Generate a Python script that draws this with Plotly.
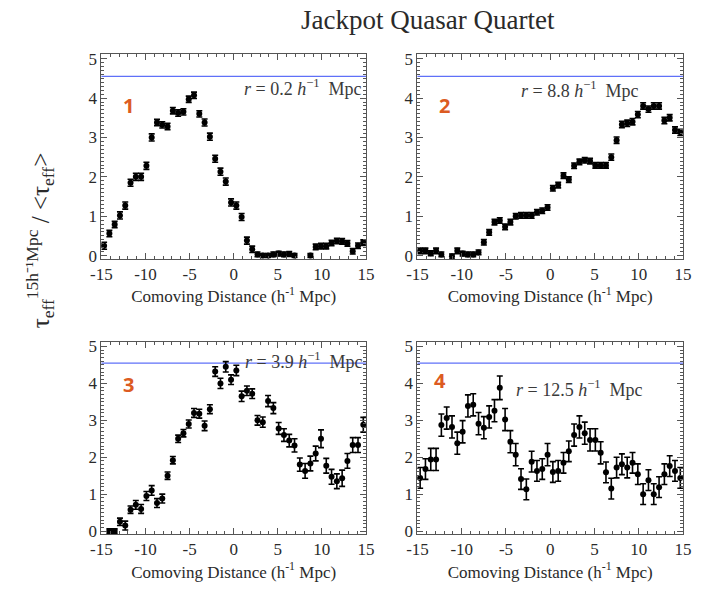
import plotly.graph_objects as go

# Comoving distance bins (h^-1 Mpc) shared by all four sightlines
distance = [-14.7, -14.1, -13.5, -12.9, -12.3, -11.7, -11.1, -10.5, -9.9, -9.3,
            -8.7, -8.1, -7.5, -6.9, -6.3, -5.7, -5.1, -4.5, -3.9, -3.3,
            -2.7, -2.1, -1.5, -0.9, -0.3, 0.3, 0.9, 1.5, 2.1, 2.7,
            3.3, 3.9, 4.5, 5.1, 5.7, 6.3, 6.9, 7.5, 8.1, 8.7,
            9.3, 9.9, 10.5, 11.1, 11.7, 12.3, 12.9, 13.5, 14.1, 14.7]

# Normalised effective optical depth, one list per quasar sightline
tau_1 = [0.25, 0.56, 0.79, 1.02, 1.27, 1.85, 2.0, 2.0, 2.28, 3.0,
         3.38, 3.32, 3.28, 3.68, 3.62, 3.65, 3.97, 4.07, 3.6, 3.38,
         3.02, 2.46, 2.13, 1.88, 1.35, 1.27, 0.98, 0.38, 0.16, 0.03,
         0.0, 0.0, 0.03, 0.05, 0.03, 0.04, 0.0, None, None, 0.0,
         0.22, 0.24, 0.24, 0.32, 0.37, 0.36, 0.31, 0.11, 0.25, 0.33]
err_1 = [0.09, 0.08, 0.08, 0.09, 0.09, 0.09, 0.09, 0.09, 0.09, 0.09,
         0.08, 0.08, 0.08, 0.08, 0.08, 0.08, 0.08, 0.08, 0.08, 0.09,
         0.09, 0.09, 0.09, 0.09, 0.09, 0.09, 0.09, 0.09, 0.08, 0.06,
         0.05, 0.05, 0.06, 0.06, 0.06, 0.06, 0.05, 0.0, 0.0, 0.05,
         0.07, 0.07, 0.07, 0.07, 0.07, 0.07, 0.07, 0.07, 0.07, 0.07]

tau_2 = [0.12, 0.12, 0.06, 0.12, 0.03, None, -0.02, 0.12, 0.05, 0.03,
         0.03, 0.08, 0.34, 0.59, 0.85, 0.89, 0.73, 0.85, 1.0, 1.02,
         1.02, 1.02, 1.1, 1.14, 1.22, 1.71, 1.79, 2.03, 1.93, 2.28,
         2.38, 2.42, 2.4, 2.29, 2.29, 2.29, 2.5, 2.93, 3.33, 3.36,
         3.4, 3.58, 3.8, 3.72, 3.8, 3.8, 3.43, 3.5, 3.19, 3.13]
err_2 = [0.07, 0.07, 0.06, 0.07, 0.06, 0.0, 0.06, 0.07, 0.06, 0.06,
         0.06, 0.06, 0.07, 0.07, 0.07, 0.07, 0.07, 0.07, 0.07, 0.07,
         0.07, 0.07, 0.07, 0.07, 0.07, 0.07, 0.07, 0.07, 0.07, 0.07,
         0.07, 0.07, 0.07, 0.07, 0.07, 0.07, 0.08, 0.08, 0.08, 0.08,
         0.08, 0.08, 0.08, 0.08, 0.08, 0.08, 0.08, 0.08, 0.08, 0.08]

tau_3 = [None, 0.0, 0.0, 0.25, 0.15, 0.58, 0.71, 0.6, 0.95, 1.1,
         0.76, 0.88, 1.5, 1.92, 2.5, 2.65, 2.9, 3.2, 3.18, 2.85,
         3.3, 4.32, 4.0, 4.45, 4.1, 4.35, 3.65, 3.8, 3.72, 3.0,
         2.95, 3.52, 3.33, 2.78, 2.6, 2.45, 2.32, 1.8, 1.63, 1.83,
         2.1, 2.5, 1.77, 1.47, 1.35, 1.43, 1.9, 2.33, 2.33, 2.88]
err_3 = [0.0, 0.06, 0.06, 0.1, 0.12, 0.1, 0.12, 0.12, 0.12, 0.13,
         0.12, 0.12, 0.1, 0.1, 0.1, 0.1, 0.11, 0.12, 0.12, 0.13,
         0.12, 0.13, 0.14, 0.14, 0.13, 0.14, 0.14, 0.13, 0.13, 0.13,
         0.14, 0.15, 0.15, 0.16, 0.17, 0.17, 0.18, 0.18, 0.2, 0.2,
         0.2, 0.24, 0.2, 0.2, 0.2, 0.22, 0.2, 0.2, 0.2, 0.2]

tau_4 = [1.44, 1.68, 1.94, 1.94, 2.87, 3.06, 2.82, 2.38, 2.69, 3.39,
         3.42, 2.91, 2.8, 3.09, 3.26, 3.88, 3.02, 2.42, 2.07, 1.41,
         1.13, 1.88, 1.63, 1.68, 2.07, 1.6, 1.63, 1.85, 2.16, 2.6,
         2.82, 2.65, 2.47, 2.47, 2.12, 1.59, 1.15, 1.72, 1.81, 1.72,
         1.85, 1.54, 1.0, 1.38, 1.0, 1.19, 1.54, 1.76, 1.63, 1.44]
err_4 = [0.28, 0.28, 0.3, 0.3, 0.3, 0.3, 0.3, 0.3, 0.3, 0.3,
         0.3, 0.3, 0.3, 0.3, 0.3, 0.32, 0.3, 0.3, 0.3, 0.28,
         0.28, 0.28, 0.28, 0.28, 0.3, 0.28, 0.28, 0.28, 0.28, 0.3,
         0.3, 0.3, 0.3, 0.3, 0.3, 0.28, 0.28, 0.28, 0.28, 0.28,
         0.28, 0.28, 0.28, 0.28, 0.28, 0.28, 0.28, 0.28, 0.28, 0.28]

panel_ids = ["1", "2", "3", "4"]
separations = ["0.2", "8.8", "3.9", "12.5"]
tau_series = [tau_1, tau_2, tau_3, tau_4]
err_series = [err_1, err_2, err_3, err_4]
reference_level = 4.55

x_ticks = [-15, -10, -5, 0, 5, 10, 15]
x_tick_labels = ["-15", "-10", "-5", "0", "5", "10", "15"]
y_ticks = [0, 1, 2, 3, 4, 5]
y_tick_labels = ["0", "1", "2", "3", "4", "5"]

W, H = 726, 591
SERIF = "Liberation Serif"
INK = "#2a2a2a"
FRAME = "#555555"
NBSP = "\u00a0"

# panel frames in pixels: (left, right, top, bottom)
frames = [(93, 365, 50, 259), (418, 691, 50, 259),
          (93, 365, 344, 540), (418, 691, 344, 540)]
# where the panel number and the separation label sit, in data units
id_pos = [(-11.9, 3.8), (-11.9, 3.8), (-11.9, 3.98), (-12.4, 4.08)]
sep_pos = [(14.8, 4.27, "right"), (-3.5, 4.22, "left"),
           (14.9, 4.62, "right"), (-4.1, 3.85, "left")]

fig = go.Figure()
layout = {}
annotations = []
shapes = []

for i in range(4):
    n = "" if i == 0 else str(i + 1)
    xa, ya = "x" + n, "y" + n
    left, right, top, bottom = frames[i]

    fig.add_trace(go.Scatter(
        x=distance, y=tau_series[i], xaxis=xa, yaxis=ya,
        mode="markers",
        marker=dict(color="black", size=6),
        error_y=dict(type="data", array=err_series[i], color="black",
                     thickness=1.6, width=3),
        showlegend=False, cliponaxis=False,
    ))

    common = dict(
        showline=True, linecolor=FRAME, linewidth=1, mirror="allticks",
        ticks="inside", ticklen=6, tickwidth=1, tickcolor=FRAME,
        showgrid=False, zeroline=False,
        tickfont=dict(family=SERIF, size=17, color=INK),
    )
    layout["xaxis" + n] = dict(
        common,
        domain=[left / W, right / W], anchor=ya,
        range=[-15, 15], tickmode="array",
        tickvals=x_ticks, ticktext=x_tick_labels,
        minor=dict(dtick=1, ticks="inside", ticklen=3, tickcolor=FRAME),
        title=dict(text="Comoving Distance (h<sup>-1</sup> Mpc)",
                   font=dict(family=SERIF, size=17, color=INK), standoff=0),
    )
    layout["yaxis" + n] = dict(
        common,
        domain=[1 - bottom / H, 1 - top / H], anchor=xa,
        range=[-0.08, 5.12], tickmode="array",
        tickvals=y_ticks, ticktext=y_tick_labels,
        minor=dict(dtick=0.1, ticks="inside", ticklen=3, tickcolor=FRAME),
    )

    shapes.append(dict(type="line", xref=xa + " domain", yref=ya,
                       x0=0, x1=1, y0=reference_level, y1=reference_level,
                       line=dict(color="#5f70f8", width=1.2), layer="below"))

    annotations.append(dict(
        x=id_pos[i][0], y=id_pos[i][1], xref=xa, yref=ya,
        xanchor="center", yanchor="middle",
        text="<b>" + panel_ids[i] + "</b>", showarrow=False,
        font=dict(family="Open Sans", size=20, color="#DC5B22"),
    ))
    sx, sy, anchor = sep_pos[i]
    annotations.append(dict(
        x=sx, y=sy, xref=xa, yref=ya, xanchor=anchor, yanchor="middle",
        text=("<i>r</i>" + NBSP + "=" + NBSP + separations[i] + NBSP
              + "<i>h</i><sup>\u22121</sup>" + NBSP + NBSP + "Mpc"),
        showarrow=False,
        font=dict(family=SERIF, size=18, color="#3a3a3a"),
    ))

annotations.append(dict(
    x=429 / W, y=1 - 15 / H, xref="paper", yref="paper",
    xanchor="center", yanchor="middle",
    text="Jackpot Quasar Quartet", showarrow=False,
    font=dict(family=SERIF, size=27, color=INK),
))
annotations.append(dict(
    x=30 / W, y=1 - 240 / H, xref="paper", yref="paper",
    xanchor="center", yanchor="middle", textangle=-90,
    text=("\u03c4<sub>eff</sub><sup>15h\u207b\u00b9Mpc</sup>" + NBSP + "/" + NBSP
          + "&lt;\u03c4<sub>eff</sub>&gt;"),
    showarrow=False,
    font=dict(family=SERIF, size=25, color=INK),
))

fig.update_layout(
    width=W, height=H,
    margin=dict(l=0, r=0, t=0, b=0),
    paper_bgcolor="white", plot_bgcolor="white",
    annotations=annotations, shapes=shapes,
    **layout,
)

fig.write_html("out.html")
